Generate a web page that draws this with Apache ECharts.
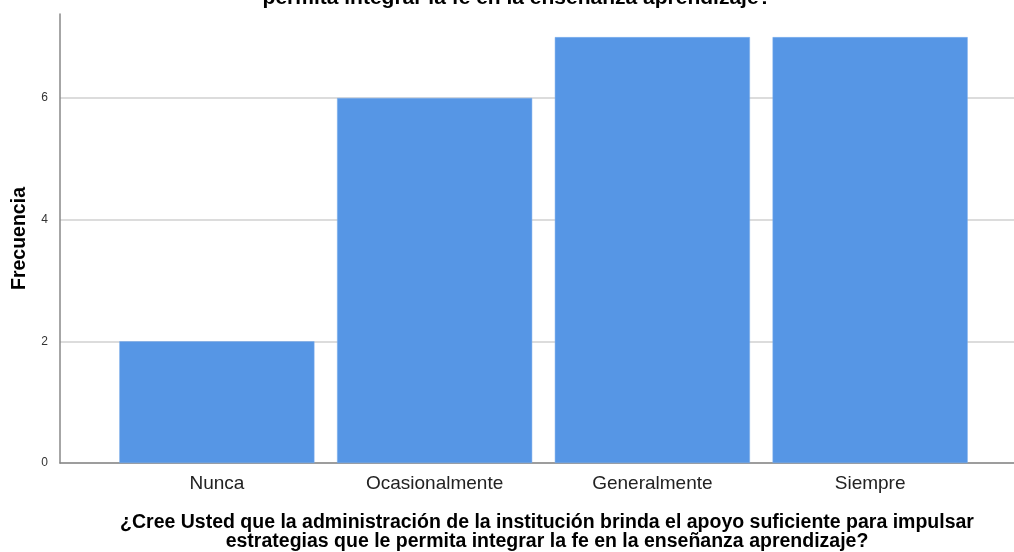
<!DOCTYPE html>
<html>
<head>
<meta charset="utf-8">
<script src="https://cdn.jsdelivr.net/npm/echarts@6/dist/echarts.min.js"></script>
<style>
  html, body { margin: 0; padding: 0; background: #fff; }
  #chart { width: 1014px; height: 552px; }
</style>
</head>
<body>
<div id="chart"></div>
<script>
// datos del grafico
var categorias = ["Nunca", "Ocasionalmente", "Generalmente", "Siempre"];
var frecuencias = [2, 6, 7, 7];
var yMax = 7.38;
var tituloArriba = "permita integrar la fe en la enseñanza aprendizaje?";
var tituloEje = "¿Cree Usted que la administración de la institución brinda el apoyo suficiente para impulsar\nestrategias que le permita integrar la fe en la enseñanza aprendizaje?";

var myChart = echarts.init(document.getElementById("chart"));

myChart.setOption({
  animation: false,
  textStyle: { fontFamily: "Liberation Sans, Arial, sans-serif" },
  title: {
    text: tituloEje,
    left: 542,
    top: 508,
    textAlign: "center",
    textStyle: { fontSize: 19.5, fontWeight: "bold", color: "#000", lineHeight: 19 }
  },
  graphic: [
    {
      type: "text",
      style: {
        text: tituloArriba,
        x: 517,
        y: 9,
        textAlign: "center",
        textVerticalAlign: "bottom",
        font: "bold 21px Liberation Sans, Arial, sans-serif",
        fill: "#000"
      }
    }
  ],
  grid: [
    // fondo: eje y, lineas de division y linea base
    { left: 60, right: 0, top: 14, bottom: 89, outerBoundsMode: "none", containLabel: false },
    // barras
    { left: 108, right: 35, top: 14, bottom: 89, outerBoundsMode: "none", containLabel: false }
  ],
  xAxis: [
    {
      gridIndex: 0,
      type: "value",
      min: 0,
      max: 1,
      axisLine: { show: true, lineStyle: { color: "#888", width: 1.5 } },
      axisTick: { show: false },
      axisLabel: { show: false },
      splitLine: { show: false }
    },
    {
      gridIndex: 1,
      type: "category",
      data: categorias,
      axisLine: { show: false },
      axisTick: { show: false },
      axisLabel: { fontSize: 19, color: "#222", margin: 11 }
    }
  ],
  yAxis: [
    {
      gridIndex: 0,
      type: "value",
      min: 0,
      max: yMax,
      interval: 2,
      name: "Frecuencia",
      nameLocation: "middle",
      nameRotate: 90,
      nameGap: 30,
      nameTextStyle: { fontSize: 19.5, fontWeight: "bold", color: "#000" },
      axisLine: { show: true, lineStyle: { color: "#888", width: 1.5 } },
      axisTick: { show: false },
      axisLabel: { fontSize: 12, color: "#333", margin: 12, showMaxLabel: false },
      splitLine: { show: true, showMaxLine: false, lineStyle: { color: "#d0d0d0", width: 1.5 } }
    },
    {
      gridIndex: 1,
      type: "value",
      min: 0,
      max: yMax,
      show: false,
      splitLine: { show: false }
    }
  ],
  series: [
    {
      name: "Frecuencia",
      type: "bar",
      xAxisIndex: 1,
      yAxisIndex: 1,
      data: frecuencias,
      barCategoryGap: "10.4%",
      itemStyle: { color: "#5696e5", borderColor: "#7aaceb", borderWidth: 0.5 }
    }
  ]
});
</script>
</body>
</html>
